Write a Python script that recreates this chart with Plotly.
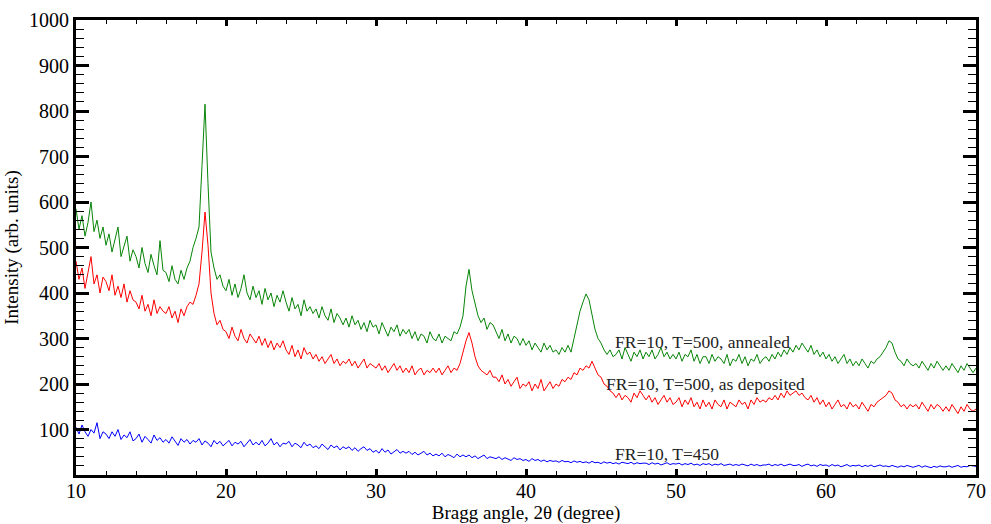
import numpy as np
import plotly.graph_objects as go

# Measurement grid: 2-theta from 10 to 70 degrees in 0.2 degree steps
two_theta_start = 10.0
two_theta_step = 0.2

# FR=10, T=500, annealed (one row = 2 degrees)
annealed = [
    585, 540, 570, 525, 555, 600, 535, 560, 520, 545,
    505, 530, 490, 515, 545, 480, 500, 525, 470, 495,
    480, 455, 500, 465, 445, 485, 460, 440, 515, 450,
    445, 425, 460, 430, 420, 450, 430, 455, 470, 500,
    520, 545, 680, 815, 640, 490, 455, 430, 440, 415,
    405, 430, 395, 420, 390, 410, 440, 400, 385, 415,
    390, 405, 375, 410, 385, 400, 370, 395, 380, 405,
    380, 360, 390, 365, 375, 350, 385, 360, 370, 355,
    365, 345, 370, 350, 340, 365, 335, 355, 345, 330,
    345, 325, 350, 330, 340, 320, 335, 315, 340, 325,
    330, 310, 335, 320, 305, 325, 315, 330, 305, 320,
    310, 320, 300, 315, 295, 310, 305, 290, 315, 300,
    295, 310, 290, 305, 300, 295, 315, 310, 325, 350,
    415, 452, 405, 375, 350, 335, 345, 320, 335, 330,
    315, 300, 320, 295, 310, 290, 305, 300, 285, 300,
    285, 295, 275, 290, 280, 270, 290, 275, 285, 270,
    275, 265, 280, 270, 285, 270, 300, 330, 360, 380,
    398, 385, 350, 320, 300, 290, 275, 265, 275, 260,
    265, 275, 255, 280, 265, 250, 270, 260, 275, 255,
    270, 260, 275, 255, 265, 280, 260, 270, 255, 265,
    255, 270, 250, 265, 260, 275, 250, 265, 245, 260,
    260, 245, 265, 250, 260, 255, 245, 265, 240, 255,
    250, 265, 245, 260, 240, 255, 250, 265, 245, 255,
    260, 250, 265, 255, 270, 260, 275, 265, 280, 270,
    285, 275, 290, 280, 270, 285, 265, 275, 260, 270,
    255, 265, 250, 260, 245, 255, 265, 245, 255, 240,
    250, 240, 255, 245, 235, 250, 245, 255, 260, 270,
    280, 295, 290, 270, 255, 250, 240, 255, 245, 240,
    245, 235, 250, 240, 230, 245, 235, 250, 240, 230,
    240, 230, 245, 235, 225, 240, 230, 245, 235, 225,
    235,
]

# FR=10, T=500, as deposited
as_deposited = [
    470, 430, 455, 410, 445, 480, 420, 440, 400, 435,
    425, 405, 440, 395, 415, 390, 420, 380, 405, 385,
    380, 365, 395, 360, 375, 350, 385, 355, 370, 360,
    355, 370, 345, 360, 335, 365, 350, 370, 380, 375,
    395, 420, 490, 578, 505, 400, 355, 330, 340, 320,
    315, 300, 325, 305, 295, 320, 300, 290, 310, 300,
    290, 305, 285, 300, 280, 295, 275, 290, 280, 295,
    275, 265, 285, 260, 275, 255, 280, 265, 270, 255,
    265, 250, 260, 245, 255, 265, 245, 255, 240, 250,
    245, 255, 240, 250, 235, 245, 255, 235, 245, 240,
    235, 245, 230, 240, 225, 235, 245, 230, 240, 225,
    235, 225, 240, 220, 230, 235, 220, 230, 225, 235,
    225, 235, 220, 230, 240, 225, 235, 230, 245, 270,
    295, 313, 290, 260, 240, 230, 225, 220, 230, 215,
    215, 205, 220, 200, 210, 195, 205, 215, 190, 200,
    195, 205, 185, 200, 190, 210, 185, 195, 205, 190,
    200, 195, 210, 205, 215, 210, 225, 220, 235, 230,
    240, 235, 250, 235, 220, 215, 200, 195, 185, 180,
    170, 180, 165, 175, 170, 160, 180, 170, 185, 175,
    165, 175, 160, 170, 155, 165, 175, 160, 170, 155,
    160, 170, 150, 165, 155, 170, 150, 160, 145, 165,
    150, 160, 145, 165, 155, 150, 165, 145, 160, 155,
    150, 165, 155, 160, 145, 165, 155, 170, 160, 165,
    160, 170, 165, 175, 165, 180, 170, 185, 175, 180,
    185, 175, 180, 170, 165, 175, 160, 170, 155, 165,
    150, 160, 145, 155, 165, 150, 155, 145, 160, 150,
    155, 145, 160, 150, 140, 155, 150, 160, 165, 170,
    175, 185, 180, 165, 160, 150, 155, 145, 155, 150,
    155, 145, 160, 150, 140, 155, 145, 155, 150, 140,
    150, 140, 155, 145, 135, 150, 140, 155, 145, 140,
    145,
]

# FR=10, T=450
t450 = [
    105, 90, 110, 95, 85, 100, 92, 115, 80, 95,
    90, 80, 95, 85, 100, 78, 88, 82, 95, 75,
    80, 90, 72, 85, 78, 70, 88, 76, 82, 72,
    78, 70, 84, 74, 65, 80, 72, 78, 68, 76,
    72, 80, 66, 75, 70, 62, 76, 68, 74, 64,
    70, 76, 64, 72, 68, 74, 62, 70, 78, 66,
    72, 66, 76, 64, 70, 80, 66, 72, 62, 70,
    68, 74, 62, 70, 66, 60, 72, 64, 68, 60,
    64, 58, 68, 62, 56, 66, 60, 64, 55, 62,
    58, 62, 54, 60, 52, 58, 62, 54, 58, 50,
    54, 48, 58, 50, 55, 46, 52, 56, 48, 52,
    48, 52, 45, 50, 44, 48, 52, 44, 48, 42,
    46, 42, 48, 40, 45, 42, 38, 46, 40, 44,
    40, 44, 38, 42, 36, 40, 44, 36, 40, 38,
    36, 40, 34, 38, 35, 32, 38, 34, 36, 32,
    34, 30, 36, 32, 34, 30, 33, 29, 32, 30,
    31, 28, 32, 29, 30, 27, 31, 28, 30, 27,
    29, 26, 30, 27, 28, 25, 29, 26, 28, 25,
    27, 24, 28, 26, 25, 28, 24, 27, 25, 26,
    26, 23, 27, 24, 26, 22, 25, 27, 23, 25,
    24, 26, 22, 25, 23, 26, 22, 24, 21, 25,
    23, 25, 21, 24, 22, 25, 21, 23, 24, 21,
    23, 21, 24, 22, 20, 24, 21, 23, 20, 22,
    22, 24, 20, 23, 21, 24, 20, 22, 24, 21,
    21, 23, 19, 22, 24, 20, 22, 19, 23, 21,
    22, 19, 23, 20, 22, 18, 21, 23, 19, 21,
    20, 22, 18, 21, 19, 22, 18, 20, 22, 19,
    20, 18, 21, 19, 17, 20, 18, 21, 19, 17,
    19, 21, 17, 20, 18, 16, 19, 17, 20, 18,
    18, 20, 17, 19, 21, 17, 19, 18, 21, 20,
    19,
]

series_labels = [
    "FR=10, T=500, annealed",
    "FR=10, T=500, as deposited",
    "FR=10, T=450",
]
label_positions = [(45.8, 292), (45.2, 200), (45.8, 46)]
x_ticks = [10, 20, 30, 40, 50, 60, 70]
y_ticks = [100, 200, 300, 400, 500, 600, 700, 800, 900, 1000]

two_theta = two_theta_start + two_theta_step * np.arange(len(annealed))

FONT = "Liberation Serif, Times New Roman, serif"

fig = go.Figure()
for values, color in [(annealed, "#078507"), (as_deposited, "#ff0000"), (t450, "#0000ff")]:
    fig.add_trace(go.Scatter(
        x=two_theta, y=values, mode="lines",
        line=dict(color=color, width=1),
        showlegend=False, hoverinfo="skip",
    ))

for text, (lx, ly) in zip(series_labels, label_positions):
    fig.add_annotation(
        x=lx, y=ly, text=text, showarrow=False,
        xanchor="left", yanchor="middle",
        font=dict(family=FONT, size=17.5, color="#222222"),
    )

fig.update_layout(
    width=991, height=524,
    margin=dict(l=76, r=15, t=20, b=49, autoexpand=False),
    paper_bgcolor="white", plot_bgcolor="white",
    font=dict(family=FONT, size=20, color="black"),
)
fig.update_xaxes(
    range=[10, 70], tickvals=x_ticks, showgrid=False, zeroline=False,
    automargin=False,
    showline=True, linewidth=3, linecolor="black", mirror="ticks",
    ticks="inside", ticklen=6, tickwidth=3, tickcolor="black",
    ticklabelstandoff=-4,
    minor=dict(dtick=2, ticks="inside", ticklen=4, tickwidth=1, tickcolor="black", showgrid=False),
    tickfont=dict(family=FONT, size=20, color="black"),
    title=dict(text="Bragg angle, 2θ (degree)", font=dict(family=FONT, size=19, color="black"), standoff=2),
)
fig.update_yaxes(
    range=[0, 1000], tickvals=y_ticks, showgrid=False, zeroline=False,
    automargin=False,
    showline=True, linewidth=3, linecolor="black", mirror="ticks",
    ticks="inside", ticklen=13, tickwidth=3, tickcolor="black",
    minor=dict(dtick=20, ticks="inside", ticklen=8, tickwidth=1, tickcolor="black", showgrid=False),
    tickfont=dict(family=FONT, size=20, color="black"),
    title=dict(text="Intensity (arb. units)", font=dict(family=FONT, size=19, color="black"), standoff=6),
)

fig.write_html("out.html")
